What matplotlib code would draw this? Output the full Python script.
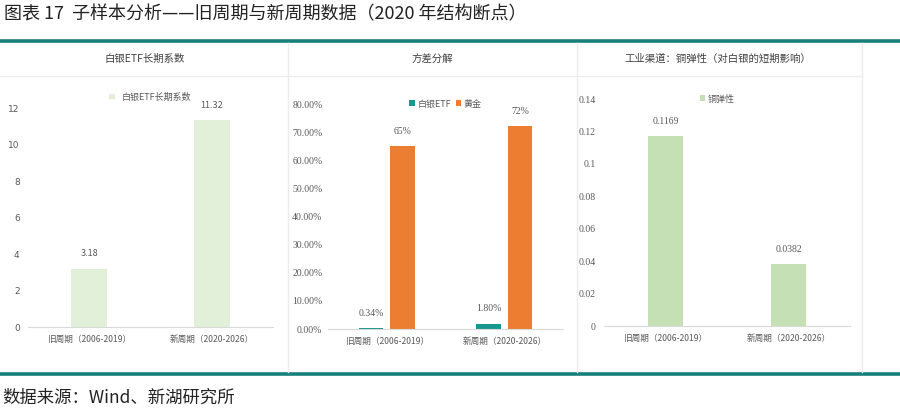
import matplotlib.pyplot as plt
import numpy as np

plt.rcParams['font.family'] = ['Noto Sans CJK SC', 'DejaVu Sans']

# data
periods = ["旧周期（2006-2019）", "新周期（2020-2026）"]
etf_coef = [3.18, 11.32]
etf_coef_labels = ["3.18", "11.32"]
var_etf = [0.0034, 0.018]
var_gold = [0.65, 0.72]
var_etf_labels = ["0.34%", "1.80%"]
var_gold_labels = ["65%", "72%"]
copper_elast = [0.1169, 0.0382]
copper_labels = ["0.1169", "0.0382"]

panel_titles = ["白银ETF长期系数", "方差分解", "工业渠道：铜弹性（对白银的短期影响）"]
fig_title = "图表 17  子样本分析——旧周期与新周期数据（2020 年结构断点）"
source = "数据来源：Wind、新湖研究所"

W, H = 900, 411
teal = "#17807B"
gray_txt = "#595959"
serif = ['Liberation Serif', 'Noto Sans CJK SC']

fig = plt.figure(figsize=(W / 100, H / 100), dpi=100)


def rect(x0, y0, x1, y1):
    return [x0 / W, 1 - y1 / H, (x1 - x0) / W, (y1 - y0) / H]


# background layer in pixel coordinates for frame lines and titles
bg = fig.add_axes([0, 0, 1, 1])
bg.set_xlim(0, W)
bg.set_ylim(H, 0)
bg.axis("off")
bg.text(4, 14, fig_title, fontsize=13, color="#222222", va="center", ha="left")
bg.plot([0, W], [41, 41], color=teal, lw=2.6)
bg.plot([0, W], [374, 374], color=teal, lw=2.6)
bg.plot([0, 862], [76, 76], color="#ECECEC", lw=1)
for xs in [288, 577, 862]:
    bg.plot([xs, xs], [43, 372], color="#ECECEC", lw=1)
for cx, t in zip([145, 432, 718], panel_titles):
    bg.text(cx, 59, t, fontsize=7.5, color="#404040", ha="center", va="center")
bg.text(2, 398, source, fontsize=12.5, color="#222222", va="center", ha="left")


def style(ax, ymax, step, fmt, tickfont, ysize=6.5, ypad=6):
    ax.set_xlim(-0.5, 1.5)
    ax.set_ylim(0, ymax)
    ax.set_yticks(np.arange(0, ymax + step / 2, step))
    ax.yaxis.set_major_formatter(plt.FuncFormatter(fmt))
    for s in ["top", "right", "left"]:
        ax.spines[s].set_visible(False)
    ax.spines["bottom"].set_color("#D9D9D9")
    ax.tick_params(axis="x", length=0, colors=gray_txt, pad=6)
    ax.tick_params(axis="y", length=0, labelsize=ysize, colors=gray_txt, pad=ypad)
    for lab in ax.get_yticklabels():
        lab.set_family(tickfont)
    ax.set_xticks([0, 1])
    ax.set_xticklabels(periods, fontsize=6.2, color=gray_txt)
    ax.patch.set_alpha(0)


x = np.arange(len(periods))

# left panel
ax1 = fig.add_axes(rect(28, 108, 273, 327))
ax1.bar(x, etf_coef, width=0.29, color="#E2F0D9", label="白银ETF长期系数")
style(ax1, 12, 2, lambda v, p: f"{v:g}", ['DejaVu Sans'])
for i, v in enumerate(etf_coef):
    ax1.annotate(etf_coef_labels[i], (x[i], v), xytext=(0, 9), textcoords="offset points",
                 ha="center", fontsize=6.5, color=gray_txt)
ax1.legend(loc="center", bbox_to_anchor=(0.5, 1.05), frameon=False, fontsize=6.5,
           handlelength=0.6, handleheight=0.6, labelcolor=gray_txt)

# middle panel
ax2 = fig.add_axes(rect(328, 104, 563, 329))
off = 0.134
ax2.bar(x - off, var_etf, width=0.21, color="#1A9690", label="白银ETF")
ax2.bar(x + off, var_gold, width=0.21, color="#ED7D31", label="黄金")
style(ax2, 0.8, 0.1, lambda v, p: f"{v * 100:.2f}%", serif, ysize=7, ypad=4)
for i in range(len(x)):
    ax2.annotate(var_etf_labels[i], (x[i] - off, var_etf[i]), xytext=(0, 9), textcoords="offset points",
                 ha="center", fontsize=7, color=gray_txt, family=serif)
    ax2.annotate(var_gold_labels[i], (x[i] + off, var_gold[i]), xytext=(0, 9), textcoords="offset points",
                 ha="center", fontsize=7, color=gray_txt, family=serif)
ax2.legend(loc="center", bbox_to_anchor=(0.5, 1.0), frameon=False, fontsize=6.5, ncol=2,
           handlelength=0.6, handleheight=0.6, columnspacing=0.5, handletextpad=0.3,
           labelcolor=gray_txt)

# right panel
ax3 = fig.add_axes(rect(604, 99, 850, 326))
ax3.bar(x, copper_elast, width=0.285, color="#C5E0B4", label="铜弹性")
style(ax3, 0.14, 0.02, lambda v, p: f"{v:g}", serif, ysize=7)
for i, v in enumerate(copper_elast):
    ax3.annotate(copper_labels[i], (x[i], v), xytext=(0, 9), textcoords="offset points",
                 ha="center", fontsize=7, color=gray_txt, family=serif)
ax3.legend(loc="center", bbox_to_anchor=(0.46, 1.0), frameon=False, fontsize=6.5,
           handlelength=0.6, handleheight=0.6, handletextpad=0.3, labelcolor=gray_txt)

fig.savefig("out.png", dpi=100)
